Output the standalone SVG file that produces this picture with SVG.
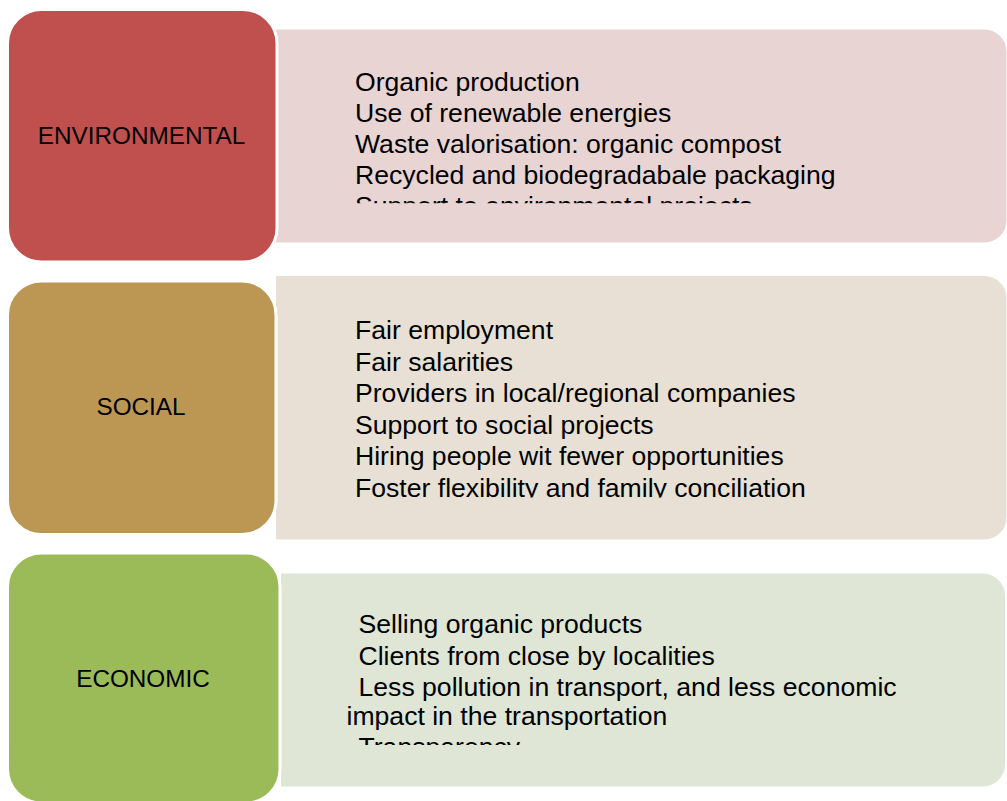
<svg xmlns="http://www.w3.org/2000/svg" width="1007" height="801" viewBox="0 0 1007 801">
  <style>
    .label { font-family: "Liberation Sans", Arial, sans-serif; font-size: 24.3px; fill: #000; text-anchor: middle; }
    .item { font-family: "Liberation Sans", Arial, sans-serif; font-size: 26.6px; fill: #000; }
    .box { stroke: #fff; stroke-width: 3; }
  </style>
  <defs>
    <clipPath id="clip-env"><rect x="276" y="29" width="731" height="174.3"/></clipPath>
    <clipPath id="clip-soc"><rect x="276" y="276" width="731" height="221.5"/></clipPath>
    <clipPath id="clip-eco"><rect x="281" y="573" width="726" height="172"/></clipPath>
  </defs>
  <rect width="1007" height="801" fill="#fff"/>

  <!-- Environmental -->
  <g id="env">
    <path d="M276 29.5 H984.5 A22 22 0 0 1 1006.5 51.5 V220.5 A22 22 0 0 1 984.5 242.5 H276 Z" fill="#E8D4D3"/>
    <g clip-path="url(#clip-env)" class="item">
      <text x="355" y="90.5">Organic production</text>
      <text x="355" y="121.5">Use of renewable energies</text>
      <text x="355" y="152.5">Waste valorisation: organic compost</text>
      <text x="355" y="184">Recycled and biodegradabale packaging</text>
      <text x="355" y="215">Support to environmental projects</text>
    </g>
    <rect class="box" x="7.5" y="9.5" width="269.5" height="252.5" rx="34" fill="#C0504D"/>
    <text class="label" x="141.5" y="144">ENVIRONMENTAL</text>
  </g>

  <!-- Social -->
  <g id="soc">
    <path d="M276 276 H984.5 A22 22 0 0 1 1006.5 298 V517.5 A22 22 0 0 1 984.5 539.5 H276 Z" fill="#E8E0D4"/>
    <g clip-path="url(#clip-soc)" class="item">
      <text x="355" y="339">Fair employment</text>
      <text x="355" y="370.5">Fair salarities</text>
      <text x="355" y="402">Providers in local/regional companies</text>
      <text x="355" y="433.5">Support to social projects</text>
      <text x="355" y="465">Hiring people wit fewer opportunities</text>
      <text x="355" y="496.5">Foster flexibility and family conciliation</text>
    </g>
    <rect class="box" x="7.5" y="281" width="268.5" height="253.5" rx="34" fill="#BB9753"/>
    <text class="label" x="141" y="414.5">SOCIAL</text>
  </g>

  <!-- Economic -->
  <g id="eco">
    <path d="M281 573.5 H983 A22 22 0 0 1 1005 595.5 V764.5 A22 22 0 0 1 983 786.5 H281 Z" fill="#DFE6D6"/>
    <g clip-path="url(#clip-eco)" class="item">
      <text x="358.5" y="633">Selling organic products</text>
      <text x="358.5" y="664.5">Clients from close by localities</text>
      <text x="358.5" y="696">Less pollution in transport, and less economic</text>
      <text x="346.5" y="724.5">impact in the transportation</text>
      <text x="358.5" y="756">Transparency</text>
    </g>
    <rect class="box" x="7.5" y="553" width="272.5" height="250" rx="34" fill="#9BBB59"/>
    <text class="label" x="143" y="687">ECONOMIC</text>
  </g>

  <g id="connectors"/>
</svg>
